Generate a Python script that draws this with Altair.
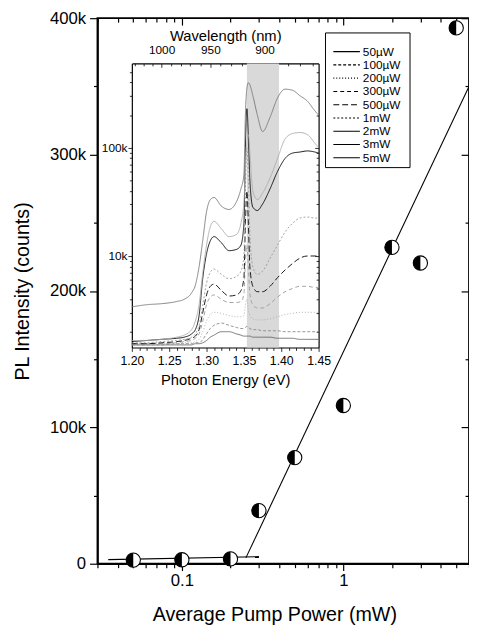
import altair as alt
import pandas as pd

FONT = "Liberation Sans"

# ---------------- main plot data ----------------
power_mw = [0.05, 0.1, 0.2, 0.3, 0.5, 1, 2, 3, 5]
pl_counts = [2700, 2900, 3500, 38900, 77800, 116000, 232000, 220500, 392900]

fit_low_power = [0.035, 0.30]
fit_low_counts = [3000, 5200]
fit_high_power = [0.249, 6.0]
fit_high_counts = [4300, 350000]

# ---------------- inset spectra ----------------
energy_ev = [1.200, 1.220, 1.240, 1.260, 1.270, 1.280, 1.285, 1.290, 1.295, 1.300,
             1.305, 1.310, 1.320, 1.330, 1.340, 1.346, 1.350, 1.352, 1.354, 1.356,
             1.358, 1.362, 1.368, 1.375, 1.385, 1.395, 1.405, 1.415, 1.425, 1.435,
             1.445, 1.450]

spec_5mW = [3390, 3550, 3630, 3800, 3980, 4570, 5370, 7940, 14100, 25700,
            33100, 34700, 28800, 26900, 31600, 41700, 56200, 200000, 355000, 398000,
            380000, 302000, 200000, 141000, 191000, 288000, 347000, 339000, 302000, 269000,
            219000, 200000]
spec_3mW = [1660, 1660, 1700, 1780, 1860, 2090, 2510, 3550, 7080, 12600,
            18600, 20900, 17800, 15100, 15800, 20000, 31600, 63100, 112000, 132000,
            89100, 39800, 33100, 38000, 52500, 79400, 120000, 135000, 138000, 132000,
            110000, 100000]
spec_2mW = [1620, 1660, 1700, 1740, 1780, 1910, 2090, 2820, 6310, 10500,
            13800, 15100, 13200, 11200, 11500, 12600, 20000, 100000, 229000, 126000,
            50100, 28200, 26300, 30200, 41700, 60300, 79400, 89100, 91200, 93300,
            91200, 89100]
spec_1mW = [1580, 1580, 1620, 1660, 1700, 1780, 1910, 2290, 3550, 5620,
            7080, 7590, 6760, 6170, 6460, 7240, 10000, 39800, 100000, 50100,
            15800, 7940, 6760, 7240, 9550, 12600, 16600, 20000, 22400, 22900,
            22400, 22400]
spec_500uW = [1550, 1550, 1580, 1620, 1660, 1740, 1820, 2090, 3020, 4370,
              5250, 5500, 4790, 4270, 4370, 4790, 6310, 20000, 39800, 20000,
              7940, 5250, 4680, 4680, 5250, 6310, 7410, 8510, 9550, 10000,
              10000, 10000]
spec_300uW = [1550, 1550, 1550, 1580, 1620, 1660, 1740, 1910, 2510, 3550,
              4170, 4370, 3980, 3720, 3720, 3800, 4470, 8910, 12600, 7940,
              4470, 3550, 3310, 3310, 3630, 4170, 4680, 5010, 5250, 5250,
              5130, 5130]
spec_200uW = [1510, 1510, 1550, 1550, 1580, 1580, 1620, 1700, 2000, 2510,
              2880, 3020, 2950, 2820, 2750, 2750, 2820, 3550, 3980, 3160,
              2820, 2630, 2570, 2570, 2630, 2750, 2880, 2950, 3020, 3020,
              3020, 3020]
spec_100uW = [1510, 1510, 1510, 1550, 1550, 1550, 1580, 1580, 1700, 1910,
              2140, 2290, 2400, 2290, 2190, 2140, 2140, 2190, 2240, 2190,
              2140, 2090, 2090, 2040, 2040, 2040, 2000, 2000, 2000, 2000,
              2000, 2000]
spec_50uW = [1510, 1510, 1510, 1510, 1510, 1510, 1550, 1550, 1580, 1660,
             1780, 1860, 2000, 2000, 1910, 1860, 1820, 1820, 1820, 1820,
             1820, 1780, 1780, 1780, 1780, 1740, 1740, 1740, 1700, 1700,
             1700, 1700]

series_names = ["50µW", "100µW", "200µW", "300µW", "500µW", "1mW", "2mW", "3mW", "5mW"]
series_values = [spec_50uW, spec_100uW, spec_200uW, spec_300uW, spec_500uW,
                 spec_1mW, spec_2mW, spec_3mW, spec_5mW]
series_dashes = [[1, 0], [3, 2], [1, 2], [4, 3], [6, 3], [2, 2], [1, 0], [1, 0], [1, 0]]
series_colors = ["#666666", "#888888", "#aaaaaa", "#999999", "#000000",
                 "#999999", "#000000", "#aaaaaa", "#777777"]

shade_lo_ev = 1.354
shade_hi_ev = 1.397

# ---------------- tick lists ----------------
main_x_ticks = [0.03, 0.04, 0.05, 0.06, 0.07, 0.08, 0.09, 0.1, 0.2, 0.3, 0.4, 0.5,
                0.6, 0.7, 0.8, 0.9, 1, 2, 3, 4, 5, 6]
main_y_ticks = [0, 50000, 100000, 150000, 200000, 250000, 300000, 350000, 400000]
inset_x_ticks = [round(1.20 + 0.01 * i, 2) for i in range(26)]
inset_y_ticks = [2000, 3000, 4000, 5000, 6000, 7000, 8000, 9000,
                 10000, 20000, 30000, 40000, 50000, 60000, 70000, 80000, 90000,
                 100000, 200000, 300000, 400000, 500000]
wavelength_ticks_nm = [860, 870, 880, 890, 900, 910, 920, 930, 940, 950,
                       960, 970, 980, 990, 1000, 1010, 1020, 1030]
HC = 1239.84
wavelength_tick_ev = [HC / w for w in wavelength_ticks_nm]

# ---------------- layout ----------------
W, H = 378, 555
IN_X = [35, 225]
IN_Y = [335, 46]
LEG_BOX = dict(x=232, x2=318, y=15, y2=152)
LEG_ROWS = [34, 142]
LEG_SYM = [240, 267]
LEG_TXT = 270

sx_main = alt.Scale(type="log", domain=[0.03, 6], range=[0, W], nice=False)
sy_main = alt.Scale(type="linear", domain=[0, 400000], range=[H, 0], nice=False, zero=False)
sx_in = alt.Scale(type="linear", domain=[1.20, 1.45], range=IN_X, nice=False, zero=False)
sy_in = alt.Scale(type="log", domain=[1430, 600000], range=IN_Y, nice=False)
sy_leg = alt.Scale(type="point", domain=series_names, range=LEG_ROWS, padding=0)
dash_scale = alt.Scale(domain=series_names, range=series_dashes)

main_df = pd.DataFrame({"power": power_mw, "counts": pl_counts})
fit_df = pd.DataFrame({
    "power": fit_low_power + fit_high_power,
    "counts": fit_low_counts + fit_high_counts,
    "seg": ["low", "low", "high", "high"],
})
rows = []
for name, vals in zip(series_names, series_values):
    for e, v in zip(energy_ev, vals):
        rows.append({"energy": e, "counts": v, "series": name, "shade": name})
spec_df = pd.DataFrame(rows)
shade_df = pd.DataFrame({"e0": [shade_lo_ev], "e1": [shade_hi_ev],
                         "lo": [1430], "hi": [600000]})
legend_df = pd.DataFrame({"series": series_names})


def major(test, big, small):
    return {"condition": {"test": test, "value": big}, "value": small}


main_x_major = "datum.value == 0.1 || datum.value == 1"
main_y_major = "datum.value % 100000 == 0"

ax_main_x = alt.Axis(
    orient="bottom", values=main_x_ticks,
    labelExpr="datum.value == 0.1 ? '0.1' : (datum.value == 1 ? '1' : '')",
    labelOverlap=False, labelFlush=False, labelFontSize=17, labelPadding=2,
    tickSize=major(main_x_major, 7, 4), tickWidth=1.2, domainWidth=1.8,
    title="Average Pump Power (mW)", titleFontSize=20, titleFontWeight="normal",
    titleX=180, titleY=42, titleBaseline="top", titleAlign="center",
)
ax_main_y = alt.Axis(
    orient="left", values=main_y_ticks,
    labelExpr="datum.value % 100000 == 0 ? (datum.value == 0 ? '0' : (datum.value / 1000) + 'k') : ''",
    labelOverlap=False, labelFlush=False, labelFontSize=17, labelPadding=4,
    tickSize=major(main_y_major, 8, 4), tickWidth=1.2, domainWidth=1.8,
    title="PL Intensity (counts)", titleFontSize=20, titleFontWeight="normal",
    titleX=-66, titleY=H / 2,
)
ax_main_top = alt.Axis(orient="bottom", offset=-H, values=main_x_ticks, labels=False,
                       domain=False, title=None, tickSize=major(main_x_major, 7, 4),
                       tickWidth=1.2)
ax_main_right = alt.Axis(orient="left", offset=-W, values=main_y_ticks, labels=False,
                         domain=False, title=None, tickSize=major(main_y_major, 8, 4),
                         tickWidth=1.2)

ax_in_x = alt.Axis(
    orient="bottom", offset=-(H - IN_Y[0]), values=inset_x_ticks,
    labelExpr="round(datum.value * 100) % 5 == 0 ? format(datum.value, '.2f') : ''",
    labelOverlap=False, labelFlush=False, labelFontSize=12.5, labelPadding=3,
    tickSize=major("round(datum.value * 100) % 5 == 0", 4, 3), tickWidth=0.8, domainWidth=1.2,
    title="Photon Energy (eV)", titleFontSize=15, titleFontWeight="normal", titlePadding=6,
)
ax_in_y = alt.Axis(
    orient="left", offset=-IN_X[0], values=inset_y_ticks,
    labelExpr="datum.value == 10000 ? '10k' : (datum.value == 100000 ? '100k' : '')",
    labelOverlap=False, labelFlush=False, labelFontSize=12, labelPadding=1,
    tickSize=major("datum.value == 10000 || datum.value == 100000", 4, 2.5),
    tickWidth=0.8, domainWidth=1.2, title=None,
)
ax_in_right = alt.Axis(orient="left", offset=-IN_X[1], values=inset_y_ticks, labels=False,
                       domain=True, domainWidth=1.2, title=None,
                       tickSize=major("datum.value == 10000 || datum.value == 100000", 4, 2.5),
                       tickWidth=0.8)
ax_in_top_ticks = alt.Axis(orient="bottom", offset=-(H - IN_Y[1]), values=wavelength_tick_ev,
                           labels=False, domain=True, domainWidth=1.2, title=None,
                           tickSize=major("round(1239.84 / datum.value) % 50 == 0", 4, 2.5),
                           tickWidth=0.8)
ax_in_top = alt.Axis(
    orient="top", offset=-IN_Y[1], values=wavelength_tick_ev, ticks=False, domain=False,
    labelExpr="round(1239.84 / datum.value) % 50 == 0 ? '' + round(1239.84 / datum.value) : ''",
    labelOverlap=False, labelFlush=False, labelFontSize=12, labelPadding=7,
    title="Wavelength (nm)", titleFontSize=15, titleFontWeight="normal", titlePadding=0,
)

# main half-filled circles
circles = alt.Chart(main_df).mark_point(
    shape="circle", filled=True, fill="white", stroke="black", strokeWidth=1.1, size=210, opacity=1
).encode(
    x=alt.X("power:Q", scale=sx_main, axis=ax_main_x),
    y=alt.Y("counts:Q", scale=sy_main, axis=ax_main_y),
)
halves = alt.Chart(main_df).mark_point(
    shape="M0,-1A1,1,0,0,0,0,1Z", filled=True, color="black", size=210, opacity=1, strokeWidth=0
).encode(
    x=alt.X("power:Q", scale=sx_main, axis=None),
    y=alt.Y("counts:Q", scale=sy_main, axis=None),
)
fits = alt.Chart(fit_df).mark_line(color="black", strokeWidth=1.1).encode(
    x=alt.X("power:Q", scale=sx_main, axis=None),
    y=alt.Y("counts:Q", scale=sy_main, axis=None),
    detail="seg:N",
)
main_mirror = alt.Chart(main_df).mark_point(opacity=0).encode(
    x=alt.X("power:Q", scale=sx_main, axis=ax_main_top),
    y=alt.Y("counts:Q", scale=sy_main, axis=ax_main_right),
)

shade = alt.Chart(shade_df).mark_rect(color="#d9d9d9").encode(
    x=alt.X("e0:Q", scale=sx_in, axis=ax_in_x),
    x2="e1:Q",
    y=alt.Y("lo:Q", scale=sy_in, axis=ax_in_y),
    y2="hi:Q",
)
spectra = alt.Chart(spec_df).mark_line(strokeWidth=0.9, interpolate="monotone").encode(
    x=alt.X("energy:Q", scale=sx_in, axis=None),
    y=alt.Y("counts:Q", scale=sy_in, axis=None),
    color=alt.Color("shade:N", scale=alt.Scale(domain=series_names, range=series_colors),
                    legend=None),
    strokeDash=alt.StrokeDash("series:N", scale=dash_scale, legend=None),
)
inset_mirror = alt.Chart(shade_df).mark_point(opacity=0).encode(
    x=alt.X("e0:Q", scale=sx_in, axis=ax_in_top_ticks),
    y=alt.Y("lo:Q", scale=sy_in, axis=ax_in_right),
)
inset_top = alt.Chart(shade_df).mark_point(opacity=0).encode(
    x=alt.X("e1:Q", scale=sx_in, axis=ax_in_top),
    y=alt.Y("hi:Q", scale=sy_in, axis=None),
)

# legend box drawn with marks
leg_box = alt.Chart(pd.DataFrame({"k": [0]})).mark_rect(
    fill="white", stroke="black", strokeWidth=1
).encode(
    x=alt.value(LEG_BOX["x"]), x2=alt.value(LEG_BOX["x2"]),
    y=alt.value(LEG_BOX["y"]), y2=alt.value(LEG_BOX["y2"]),
)
leg_lines = alt.Chart(legend_df).mark_rule(color="black", strokeWidth=1.1).encode(
    x=alt.value(LEG_SYM[0]), x2=alt.value(LEG_SYM[1]),
    y=alt.Y("series:N", scale=sy_leg, axis=None),
    strokeDash=alt.StrokeDash("series:N", scale=dash_scale, legend=None),
)
leg_text = alt.Chart(legend_df).mark_text(
    align="left", baseline="middle", font=FONT, fontSize=12, color="black"
).encode(
    x=alt.value(LEG_TXT),
    y=alt.Y("series:N", scale=sy_leg, axis=None),
    text="series:N",
)

chart = alt.layer(
    shade, spectra, inset_mirror, inset_top, main_mirror, fits, circles, halves,
    leg_box, leg_lines, leg_text
).resolve_scale(
    x="independent", y="independent"
).resolve_axis(
    x="independent", y="independent"
).properties(
    width=W, height=H,
    autosize=alt.AutoSizeParams(type="none"),
    padding={"left": 91, "top": 5, "right": 0, "bottom": 59},
    background="white",
).configure_axis(
    labelFont=FONT, titleFont=FONT, labelColor="black", titleColor="black",
    domainColor="black", tickColor="black", grid=False,
).configure_view(
    stroke="black", strokeWidth=1.8,
)

chart.save("out.html", embed_options={"renderer": "svg", "actions": False})
